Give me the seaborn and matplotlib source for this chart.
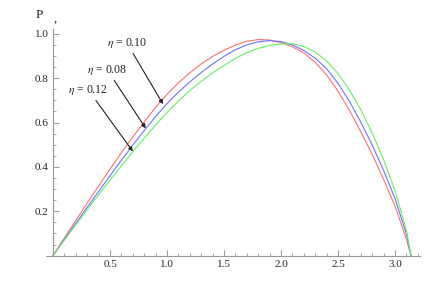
import pandas as pd
import matplotlib
matplotlib.use("Agg")
from matplotlib import pyplot as plt
from matplotlib.ticker import MultipleLocator
import seaborn as sns

# values
x_vals = [0.0, 0.1, 0.2, 0.3, 0.4, 0.5, 0.6, 0.7, 0.8, 0.9, 1.0, 1.1, 1.2, 1.3, 1.4, 1.5,
          1.6, 1.7, 1.8, 1.9, 2.0, 2.1, 2.2, 2.3, 2.4, 2.5, 2.6, 2.7, 2.8, 2.9, 3.0, 3.1, 3.1416]
p_010 = [0.0, 0.080, 0.159, 0.237, 0.314, 0.390, 0.464, 0.535, 0.603, 0.668, 0.727, 0.779,
         0.824, 0.864, 0.898, 0.926, 0.949, 0.966, 0.974, 0.972, 0.960, 0.942, 0.914, 0.872,
         0.815, 0.742, 0.656, 0.559, 0.457, 0.344, 0.224, 0.075, 0.0]
p_008 = [0.0, 0.074, 0.146, 0.218, 0.289, 0.360, 0.430, 0.498, 0.564, 0.627, 0.685, 0.737,
         0.783, 0.825, 0.864, 0.898, 0.928, 0.950, 0.964, 0.969, 0.965, 0.950, 0.925, 0.890,
         0.843, 0.777, 0.696, 0.602, 0.499, 0.385, 0.258, 0.098, 0.0]
p_012 = [0.0, 0.070, 0.139, 0.207, 0.274, 0.340, 0.405, 0.468, 0.530, 0.589, 0.645, 0.697,
         0.744, 0.786, 0.824, 0.857, 0.889, 0.915, 0.934, 0.947, 0.954, 0.955, 0.943, 0.918,
         0.878, 0.821, 0.748, 0.658, 0.553, 0.433, 0.293, 0.115, 0.0]
labels = ["0.10", "0.08", "0.12"]
colors = ["#ff7070", "#7070ff", "#66ee66"]

df = pd.DataFrame({
    "x": x_vals * 3,
    "P": p_010 + p_008 + p_012,
    "eta": [labels[0]] * len(x_vals) + [labels[1]] * len(x_vals) + [labels[2]] * len(x_vals),
})

sns.set_style("white")
plt.rcParams["font.family"] = ["Liberation Serif", "DejaVu Serif"]
plt.rcParams["mathtext.fontset"] = "stix"

fig = plt.figure(figsize=(4.44, 2.85), dpi=100)
ax = fig.add_axes([0.104, 0.103, 0.842, 0.794])

sns.lineplot(data=df, x="x", y="P", hue="eta", palette=dict(zip(labels, colors)),
             linewidth=0.8, legend=False, ax=ax, sort=False)

ax.set_xlim(-0.06, 3.22)
ax.set_ylim(0, 1.02)
ax.spines["left"].set_position(("data", 0))
ax.spines["bottom"].set_position(("data", 0))
ax.spines["top"].set_visible(False)
ax.spines["right"].set_visible(False)
for s in ["left", "bottom"]:
    ax.spines[s].set_color("#999999")
    ax.spines[s].set_linewidth(0.8)

ax.xaxis.set_minor_locator(MultipleLocator(0.1))
ax.yaxis.set_minor_locator(MultipleLocator(0.05))
ax.tick_params(which="both", direction="in", color="#999999", labelsize=8,
               bottom=True, left=True)
ax.tick_params(which="major", length=4, width=0.7, pad=3)
ax.tick_params(which="minor", length=2, width=0.6)
ax.set_xticks([0.5, 1.0, 1.5, 2.0, 2.5, 3.0])
ax.set_xticklabels(["0.5", "1.0", "1.5", "2.0", "2.5", "3.0"])
ax.set_yticks([0.2, 0.4, 0.6, 0.8, 1.0])
ax.set_yticklabels(["0.2", "0.4", "0.6", "0.8", "1.0"])
ax.set_xlabel("")
ax.set_ylabel("")

fig.text(0.088, 0.947, "P", fontsize=9.5, ha="center", va="center")
fig.text(0.124, 0.935, ",", fontsize=9, ha="center", va="center")

arrow = dict(arrowstyle="-|>", color="#222222", lw=0.8, mutation_scale=6,
             shrinkA=0, shrinkB=0)
ax.annotate(r"$\eta$ = 0.10", xy=(0.965, 0.683), xytext=(0.649, 0.958),
            fontsize=8.5, ha="center", va="center", arrowprops=arrow)
ax.annotate(r"$\eta$ = 0.08", xy=(0.813, 0.574), xytext=(0.478, 0.836),
            fontsize=8.5, ha="center", va="center", arrowprops=arrow)
ax.annotate(r"$\eta$ = 0.12", xy=(0.700, 0.470), xytext=(0.311, 0.746),
            fontsize=8.5, ha="center", va="center", arrowprops=arrow)

fig.savefig("out.png", dpi=100)
